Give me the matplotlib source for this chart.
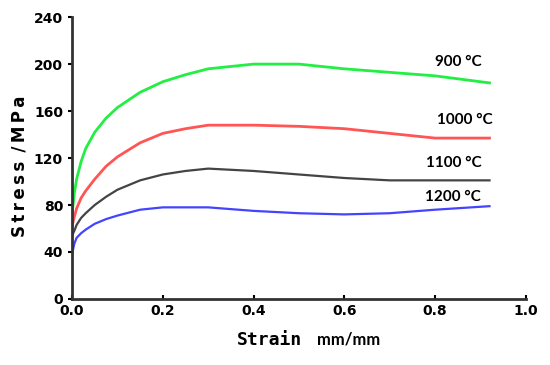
import matplotlib.pyplot as plt

strain = [0.0, 0.005, 0.01, 0.02, 0.03, 0.05, 0.075, 0.1, 0.15, 0.2, 0.25, 0.3, 0.4, 0.5, 0.6, 0.7, 0.8, 0.92]
s900 = [72, 90, 102, 117, 128, 142, 154, 163, 176, 185, 191, 196, 200, 200, 196, 193, 190, 184]
s1000 = [62, 70, 77, 86, 92, 102, 113, 121, 133, 141, 145, 148, 148, 147, 145, 141, 137, 137]
s1100 = [54, 58, 63, 69, 73, 80, 87, 93, 101, 106, 109, 111, 109, 106, 103, 101, 101, 101]
s1200 = [38, 47, 52, 56, 59, 64, 68, 71, 76, 78, 78, 78, 75, 73, 72, 73, 76, 79]

labels = ["900 °C", "1000 °C", "1100 °C", "1200 °C"]
label_pos = [(0.80, 202), (0.805, 152), (0.78, 116), (0.778, 87)]

fig = plt.figure(figsize=(5.5, 3.65), dpi=100)
ax = fig.add_axes([0.131, 0.181, 0.825, 0.772])

ax.plot(strain, s900, color='#22ee44', lw=2)
ax.plot(strain, s1000, color='#ff5555', lw=2)
ax.plot(strain, s1100, color='#444444', lw=1.6)
ax.plot(strain, s1200, color='#4444ff', lw=1.6)

for lab, (x, y) in zip(labels, label_pos):
    ax.text(x, y, lab, fontsize=11, fontweight='bold', family='Lato', va='center')

ax.set_xlim(0, 1.0)
ax.set_ylim(0, 240)
ax.set_xticks([0.0, 0.2, 0.4, 0.6, 0.8, 1.0])
ax.set_yticks([0, 40, 80, 120, 160, 200, 240])
ax.set_xticklabels(['0.0', '0.2', '0.4', '0.6', '0.8', '1.0'], fontweight='bold', fontsize=10)
ax.set_yticklabels(['0', '40', '80', '120', '160', '200', '240'], fontweight='bold', fontsize=10)
ax.tick_params(axis='x', direction='in', length=3, width=1.5)
ax.tick_params(axis='y', direction='out', length=3, width=1.5)
ax.spines['top'].set_visible(False)
ax.spines['right'].set_visible(False)
ax.spines['left'].set_linewidth(2)
ax.spines['bottom'].set_linewidth(2)
ax.spines['left'].set_color('#333333')
ax.spines['bottom'].set_color('#333333')

ax.set_ylabel('S\u2009t\u2009r\u2009e\u2009s\u2009s\u2009 /\u2009M\u2009P\u2009a', fontweight='bold', fontsize=12)
ax.yaxis.set_label_coords(-0.097, 0.47)
fig.text(0.43, 0.055, 'Strain', fontweight='bold', fontsize=13, family='DejaVu Sans Mono')
fig.text(0.576, 0.055, 'mm/mm', fontweight='bold', fontsize=12, family='Lato')

fig.savefig('out.png', dpi=100)
